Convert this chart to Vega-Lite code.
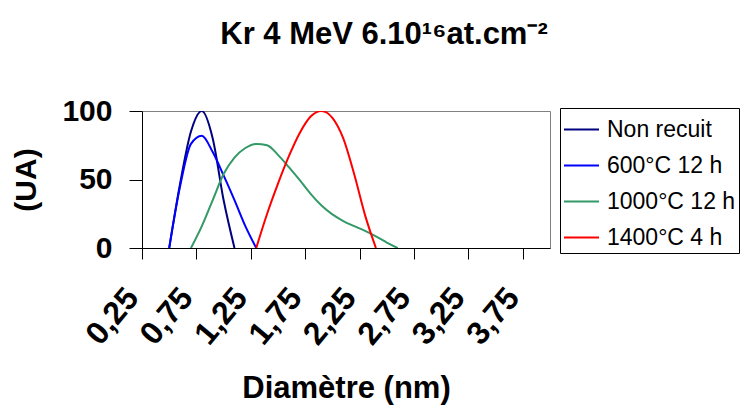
{
  "$schema": "https://vega.github.io/schema/vega-lite/v6.json",
  "width": 408,
  "height": 137,
  "autosize": {"type": "none"},
  "padding": {"left": 142, "top": 111, "right": 198, "bottom": 157},
  "background": "white",
  "title": {"text": "Kr 4 MeV 6.10¹⁶at.cm⁻²", "font": "Liberation Sans", "fontSize": 31, "fontWeight": "bold", "color": "black", "anchor": "middle", "frame": "group", "dx": 38, "offset": 45},
  "data": {"values": [
    {"s": "Non recuit", "d": 0.5, "v": 0},
    {"s": "Non recuit", "d": 0.6, "v": 47},
    {"s": "Non recuit", "d": 0.7, "v": 85},
    {"s": "Non recuit", "d": 0.8, "v": 100},
    {"s": "Non recuit", "d": 0.9, "v": 80},
    {"s": "Non recuit", "d": 1.0, "v": 35},
    {"s": "Non recuit", "d": 1.1, "v": 0},
    {"s": "600°C 12 h", "d": 0.5, "v": 0},
    {"s": "600°C 12 h", "d": 0.6, "v": 45},
    {"s": "600°C 12 h", "d": 0.7, "v": 76},
    {"s": "600°C 12 h", "d": 0.8, "v": 82},
    {"s": "600°C 12 h", "d": 0.9, "v": 70},
    {"s": "600°C 12 h", "d": 1.0, "v": 53},
    {"s": "600°C 12 h", "d": 1.1, "v": 35},
    {"s": "600°C 12 h", "d": 1.2, "v": 16},
    {"s": "600°C 12 h", "d": 1.3, "v": 0},
    {"s": "1000°C 12 h", "d": 0.7, "v": 0},
    {"s": "1000°C 12 h", "d": 0.8, "v": 16},
    {"s": "1000°C 12 h", "d": 0.9, "v": 35},
    {"s": "1000°C 12 h", "d": 1.0, "v": 54},
    {"s": "1000°C 12 h", "d": 1.1, "v": 66},
    {"s": "1000°C 12 h", "d": 1.2, "v": 73},
    {"s": "1000°C 12 h", "d": 1.3, "v": 76},
    {"s": "1000°C 12 h", "d": 1.4, "v": 75},
    {"s": "1000°C 12 h", "d": 1.5, "v": 68},
    {"s": "1000°C 12 h", "d": 1.6, "v": 59},
    {"s": "1000°C 12 h", "d": 1.7, "v": 49.5},
    {"s": "1000°C 12 h", "d": 1.8, "v": 39.5},
    {"s": "1000°C 12 h", "d": 1.9, "v": 31},
    {"s": "1000°C 12 h", "d": 2.0, "v": 24.5},
    {"s": "1000°C 12 h", "d": 2.1, "v": 19.7},
    {"s": "1000°C 12 h", "d": 2.2, "v": 16},
    {"s": "1000°C 12 h", "d": 2.3, "v": 12.5},
    {"s": "1000°C 12 h", "d": 2.4, "v": 8.5},
    {"s": "1000°C 12 h", "d": 2.5, "v": 4},
    {"s": "1000°C 12 h", "d": 2.6, "v": 0},
    {"s": "1400°C 4 h", "d": 1.3, "v": 0},
    {"s": "1400°C 4 h", "d": 1.4, "v": 25},
    {"s": "1400°C 4 h", "d": 1.5, "v": 47},
    {"s": "1400°C 4 h", "d": 1.6, "v": 67},
    {"s": "1400°C 4 h", "d": 1.7, "v": 84},
    {"s": "1400°C 4 h", "d": 1.8, "v": 96},
    {"s": "1400°C 4 h", "d": 1.9, "v": 100},
    {"s": "1400°C 4 h", "d": 2.0, "v": 95},
    {"s": "1400°C 4 h", "d": 2.1, "v": 80},
    {"s": "1400°C 4 h", "d": 2.2, "v": 54},
    {"s": "1400°C 4 h", "d": 2.3, "v": 24},
    {"s": "1400°C 4 h", "d": 2.4, "v": 0}
  ]},
  "mark": {"type": "line", "interpolate": "monotone", "strokeWidth": 2, "clip": true},
  "encoding": {
    "x": {
      "field": "d", "type": "quantitative",
      "scale": {"domain": [0.25, 4], "nice": false, "zero": false},
      "axis": {
        "values": [0.25, 0.75, 1.25, 1.75, 2.25, 2.75, 3.25, 3.75],
        "labelExpr": "replace(format(datum.value, '.2f'), '.', ',')",
        "grid": false,
        "labelAngle": -50,
        "labelAlign": "right",
        "labelBaseline": "middle",
        "labelPadding": 33,
        "labelOffset": -10,
        "labelFontSize": 32,
        "labelFlush": false,
        "labelOverlap": false,
        "tickSize": 11,
        "title": "Diamètre (nm)",
        "titleFontSize": 31,
        "titleY": 149,
        "titleBaseline": "alphabetic"
      }
    },
    "y": {
      "field": "v", "type": "quantitative",
      "scale": {"domain": [0, 100], "nice": false},
      "axis": {
        "values": [0, 50, 100],
        "grid": false,
        "labelFontSize": 30,
        "labelPadding": 17,
        "labelFlush": false,
        "labelOverlap": false,
        "tickSize": 13,
        "title": "(UA)",
        "titleFontSize": 30,
        "titleAngle": 270,
        "titleX": -116,
        "titleY": 68.5,
        "titleAlign": "center",
        "titleBaseline": "middle"
      }
    },
    "color": {
      "field": "s", "type": "nominal",
      "scale": {
        "domain": ["Non recuit", "600°C 12 h", "1000°C 12 h", "1400°C 4 h"],
        "range": ["#000080", "#0000FF", "#339966", "#FF0000"]
      },
      "legend": {
        "orient": "none",
        "legendX": 418,
        "legendY": -3,
        "title": null,
        "symbolType": "stroke",
        "symbolSize": 1225,
        "symbolStrokeWidth": 2,
        "labelFontSize": 23,
        "labelOffset": 7,
        "labelLimit": 400,
        "rowPadding": 5,
        "padding": 3,
        "strokeColor": "black",
        "fillColor": "white"
      }
    }
  },
  "config": {
    "font": "Liberation Sans",
    "view": {"stroke": "#808080", "strokeWidth": 1},
    "axis": {
      "labelFont": "Liberation Sans",
      "labelFontWeight": "bold",
      "labelColor": "black",
      "titleFont": "Liberation Sans",
      "titleFontWeight": "bold",
      "titleColor": "black",
      "domainColor": "black",
      "tickColor": "black",
      "domainWidth": 1,
      "tickWidth": 1
    },
    "legend": {
      "labelFont": "Liberation Sans",
      "labelColor": "black"
    }
  }
}
